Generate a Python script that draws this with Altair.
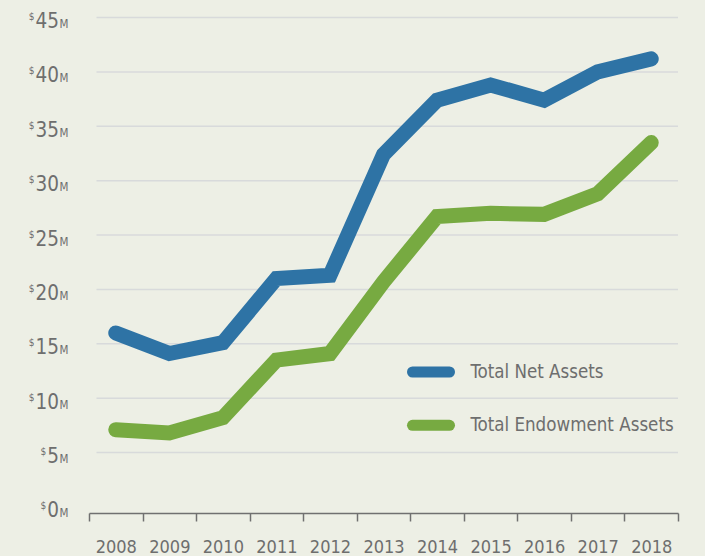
import altair as alt
import pandas as pd

years = list(range(2008, 2019))
net_assets = [16.0, 14.1, 15.1, 21.0, 21.3, 32.4, 37.4, 38.8, 37.4, 40.0, 41.2]
endowment_assets = [7.1, 6.8, 8.2, 13.5, 14.1, 20.7, 26.7, 27.0, 26.9, 28.8, 33.5]
series_names = ["Total Net Assets", "Total Endowment Assets"]
series_colors = ["#2e73a5", "#77aa41"]
y_ticks = [0, 5, 10, 15, 20, 25, 30, 35, 40, 45]

FONT = "DejaVu Sans Condensed"
TEXT = "#6e6e6e"
AXIS = "#707070"

df = pd.DataFrame({
    "year": years * 2,
    "value": net_assets + endowment_assets,
    "series": [series_names[0]] * len(years) + [series_names[1]] * len(years),
})
ticks_df = pd.DataFrame({"v": y_ticks})
legend_df = pd.DataFrame({"series": series_names})

yscale = alt.Scale(domain=[-0.56, 45.6], nice=False, zero=False)
xscale = alt.Scale(type="band", paddingInner=0, paddingOuter=0)
cscale = alt.Scale(domain=series_names, range=series_colors)

grid = alt.Chart(ticks_df).transform_filter("datum.v > 0").mark_rule(
    color="#d8dadb", strokeWidth=1.5
).encode(
    y=alt.Y("v:Q", scale=yscale, axis=None),
    x=alt.value(7.5),
    x2=alt.value(589),
)

lines = alt.Chart(df).mark_line(strokeWidth=15, strokeCap="round").encode(
    x=alt.X(
        "year:O",
        scale=xscale,
        axis=alt.Axis(
            title=None, tickBand="extent", labelAngle=0, labelFont=FONT,
            labelFontSize=18, labelColor=TEXT, labelPadding=17, tickSize=8,
            tickColor=AXIS, domainColor=AXIS, tickWidth=1.5, domainWidth=1.5,
            grid=False,
        ),
    ),
    y=alt.Y(
        "value:Q",
        scale=yscale,
        axis=alt.Axis(title=None, labels=False, ticks=False, grid=False,
                      domainColor=AXIS, domainWidth=1.5),
    ),
    color=alt.Color("series:N", scale=cscale, legend=None),
)

num = alt.Chart(ticks_df).mark_text(
    align="right", baseline="alphabetic", font=FONT, fontSize=20.5,
    color=TEXT, dy=10.5,
).encode(
    y=alt.Y("v:Q", scale=yscale, axis=None),
    x=alt.value(-30),
    text=alt.Text("v:Q", format="d"),
)

unit = alt.Chart(ticks_df).mark_text(
    align="left", baseline="alphabetic", font=FONT, fontSize=11.5,
    color=TEXT, dy=10.5, text="M",
).encode(
    y=alt.Y("v:Q", scale=yscale, axis=None),
    x=alt.value(-29.5),
)

dollar = alt.Chart(ticks_df).transform_calculate(
    sx="-31 - 11.7 * length(toString(datum.v))"
).mark_text(
    align="right", baseline="alphabetic", font=FONT, fontSize=10,
    color=TEXT, dy=2.5, text="$",
).encode(
    y=alt.Y("v:Q", scale=yscale, axis=None),
    x=alt.X("sx:Q", scale=None),
)

lscale = alt.Scale(type="point", domain=series_names, range=[361, 414.3], padding=0)

legend_sym = alt.Chart(legend_df).mark_rule(strokeWidth=11, strokeCap="round").encode(
    y=alt.Y("series:N", scale=lscale, axis=None),
    x=alt.value(323.5),
    x2=alt.value(360.5),
    color=alt.Color("series:N", scale=cscale, legend=None),
)

legend_txt = alt.Chart(legend_df).mark_text(
    align="left", baseline="middle", font=FONT, fontSize=18.6, color=TEXT,
).encode(
    y=alt.Y("series:N", scale=lscale, axis=None),
    x=alt.value(381.4),
    text="series:N",
)

main = alt.layer(grid, lines, num, unit, dollar)
leg = alt.layer(legend_sym, legend_txt)

chart = alt.layer(main, leg).resolve_scale(y="independent").properties(
    width=589,
    height=502,
    autosize=alt.AutoSizeParams(type="none"),
    padding={"left": 89, "top": 11, "right": 27, "bottom": 43},
    background="#edefe5",
).configure_view(stroke=None)

chart.save("out.html", embed_options={"renderer": "svg", "actions": False})
